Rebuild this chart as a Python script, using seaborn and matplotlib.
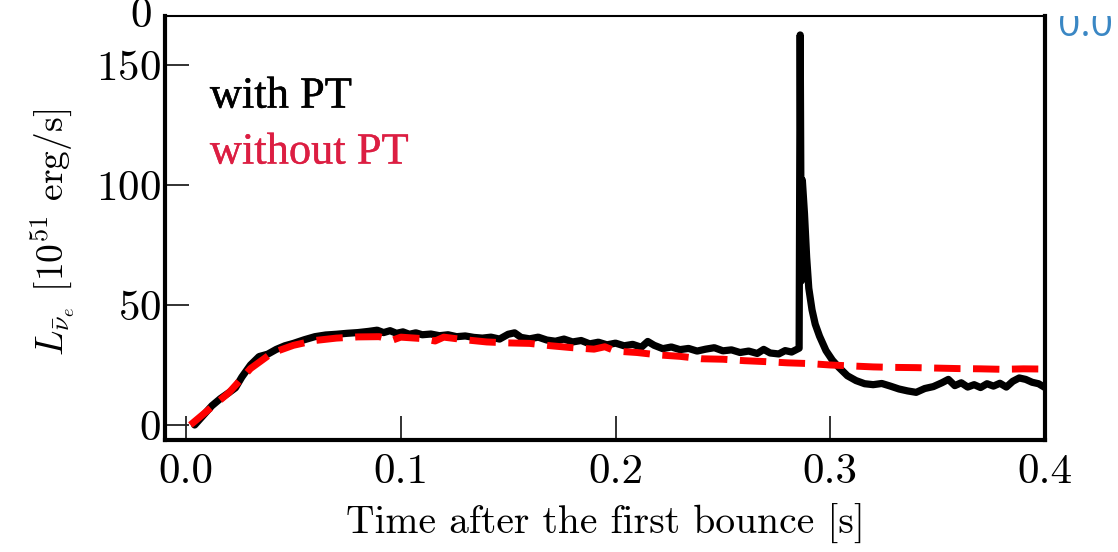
import pandas as pd
import seaborn as sns
import matplotlib.pyplot as plt
import matplotlib.patheffects as pe
from matplotlib.transforms import Bbox

# with PT (black)
t_pt = [0.004, 0.008, 0.012, 0.016, 0.020, 0.023, 0.026, 0.030, 0.034, 0.038,
        0.042, 0.046, 0.050, 0.055, 0.060, 0.065, 0.070, 0.075, 0.080, 0.085,
        0.089, 0.092, 0.095, 0.098, 0.101, 0.104, 0.107, 0.110, 0.114, 0.118,
        0.122, 0.126, 0.130, 0.134, 0.138, 0.142, 0.146, 0.150, 0.153, 0.156,
        0.160, 0.164, 0.168, 0.172, 0.176, 0.180, 0.184, 0.188, 0.192, 0.196,
        0.200, 0.204, 0.208, 0.212, 0.215, 0.218, 0.222, 0.226, 0.230, 0.234,
        0.238, 0.242, 0.246, 0.250, 0.254, 0.258, 0.262, 0.266, 0.269, 0.272,
        0.276, 0.279, 0.282, 0.2855, 0.2860, 0.2865, 0.2870, 0.2880, 0.2890, 0.2900,
        0.2915, 0.2930, 0.2950, 0.2980, 0.3010, 0.3040, 0.3080, 0.3120, 0.3160, 0.3200,
        0.3240, 0.3280, 0.3320, 0.3360, 0.3400, 0.3440, 0.3480, 0.3520, 0.3550, 0.3580,
        0.3610, 0.3640, 0.3670, 0.3700, 0.3730, 0.3760, 0.3790, 0.3820, 0.3850, 0.3880,
        0.3910, 0.3940, 0.3970, 0.4000]
L_pt = [0.0, 4.0, 8.0, 11.0, 13.5, 15.5, 20.0, 25.0, 28.5, 29.5,
        31.5, 33.0, 34.0, 35.5, 36.8, 37.5, 37.8, 38.2, 38.5, 39.0,
        39.5, 38.5, 39.3, 38.2, 38.8, 37.8, 38.4, 37.6, 37.9, 37.2,
        37.6, 36.8, 37.1, 36.5, 36.2, 36.6, 35.8, 37.8, 38.4, 36.5,
        35.9, 36.6, 35.4, 34.9, 35.8, 34.6, 35.2, 33.8, 34.5, 33.4,
        34.1, 33.0, 33.6, 32.4, 34.8, 33.2, 31.8, 32.5, 31.4, 31.9,
        30.8, 31.6, 32.2, 30.9, 31.3, 30.2, 30.8, 29.8, 31.5, 30.0,
        29.6, 31.0, 30.4, 32.0, 162.5, 60.0, 102.0, 88.0, 70.0, 57.0,
        48.0, 42.0, 37.0, 31.0, 27.0, 24.0, 20.5, 18.5, 17.2, 16.8,
        17.3, 16.2, 15.0, 14.2, 13.6, 15.2, 16.0, 17.6, 19.0, 16.4,
        17.6, 15.8, 16.8, 15.6, 17.2, 16.2, 17.4, 15.8, 18.2, 19.6,
        19.0, 17.8, 17.2, 15.6]

# without PT (red dashed)
t_nopt = [0.002, 0.010, 0.020, 0.030, 0.040, 0.050, 0.060, 0.070, 0.080, 0.090,
          0.096, 0.100, 0.110, 0.116, 0.120, 0.130, 0.140, 0.150, 0.160, 0.170,
          0.180, 0.190, 0.195, 0.200, 0.210, 0.220, 0.230, 0.240, 0.250, 0.260,
          0.270, 0.280, 0.290, 0.300, 0.310, 0.320, 0.330, 0.340, 0.350, 0.360,
          0.370, 0.380, 0.390, 0.400]
L_nopt = [0.0, 6.0, 13.5, 23.5, 30.0, 33.2, 35.2, 36.2, 36.7, 36.8,
          35.3, 36.6, 36.0, 35.0, 36.6, 35.5, 34.6, 34.2, 34.0, 33.0,
          32.2, 31.6, 32.6, 30.8, 30.2, 29.2, 28.6, 27.6, 27.4, 26.8,
          26.4, 25.9, 25.6, 25.0, 24.6, 24.2, 24.0, 23.9, 23.7, 23.5,
          23.4, 23.2, 23.4, 23.3]

xticks = [0.0, 0.1, 0.2, 0.3, 0.4]
xticklabels = ["0.0", "0.1", "0.2", "0.3", "0.4"]
yticks = [0, 50, 100, 150]

df_pt = pd.DataFrame({"t": t_pt, "L": L_pt})
df_nopt = pd.DataFrame({"t": t_nopt, "L": L_nopt})

sns.set_theme(style="ticks")
plt.rcParams["font.family"] = ["cmr10", "DejaVu Serif"]
plt.rcParams["mathtext.fontset"] = "cm"
plt.rcParams["axes.formatter.use_mathtext"] = True
plt.rcParams["axes.unicode_minus"] = False
plt.rcParams["text.color"] = "black"
plt.rcParams["axes.labelcolor"] = "black"

fig = plt.figure(figsize=(11.18, 5.52), dpi=100)
ax = fig.add_axes([0.1476, 0.2029, 0.7871, 0.7681])

sns.lineplot(data=df_pt, x="t", y="L", ax=ax, color="black", lw=5.2,
             estimator=None, sort=False)
sns.lineplot(data=df_nopt, x="t", y="L", ax=ax, color="#ff0000", lw=5.0,
             estimator=None, sort=False, linestyle=(0, (3.8, 1.8)))

ax.set_xlim(-0.0098, 0.4)
ax.set_ylim(-6.25, 170.4)
ax.set_xticks(xticks)
ax.set_yticks(yticks)
ax.set_xticklabels(xticklabels)
ax.tick_params(direction="in", length=17, width=1.3, labelsize=31,
               colors="#222222", labelcolor="black", top=False, right=False)
ax.tick_params(axis="x", pad=10)
ax.tick_params(axis="y", pad=3)

for side in ["left", "bottom", "right"]:
    ax.spines[side].set_linewidth(3.0)
    ax.spines[side].set_color("black")
ax.spines["top"].set_linewidth(1.5)
ax.spines["top"].set_color("black")

ax.set_xlabel("Time after the first bounce [s]", fontsize=28.5, labelpad=9)
ax.set_ylabel(r"$L_{\bar{\nu}_e}$ $[10^{51}$ erg/s$]$", fontsize=27)
ax.yaxis.set_label_coords(-0.10, 0.49)

ax.text(0.051, 0.784, "with PT", transform=ax.transAxes, fontsize=32,
        color="black", family=["Liberation Serif"], va="baseline",
        path_effects=[pe.withStroke(linewidth=0.35, foreground="black")])
ax.text(0.051, 0.652, "without PT", transform=ax.transAxes, fontsize=32,
        color="#dc1e42", family=["Liberation Serif"], va="baseline",
        path_effects=[pe.withStroke(linewidth=0.25, foreground="#dc1e42")])

# cut-off labels from neighbouring panels
fig.text(0.117, 0.951, "0", fontsize=31, va="baseline")
blue = fig.text(0.946, 0.935, "0.0", fontsize=28, color="#3a87c4",
                va="baseline", family=["Open Sans"])
blue.set_clip_box(Bbox.from_extents(0, 0, 1118, 536))
blue.set_clip_on(True)

fig.savefig("out.png", dpi=100)
